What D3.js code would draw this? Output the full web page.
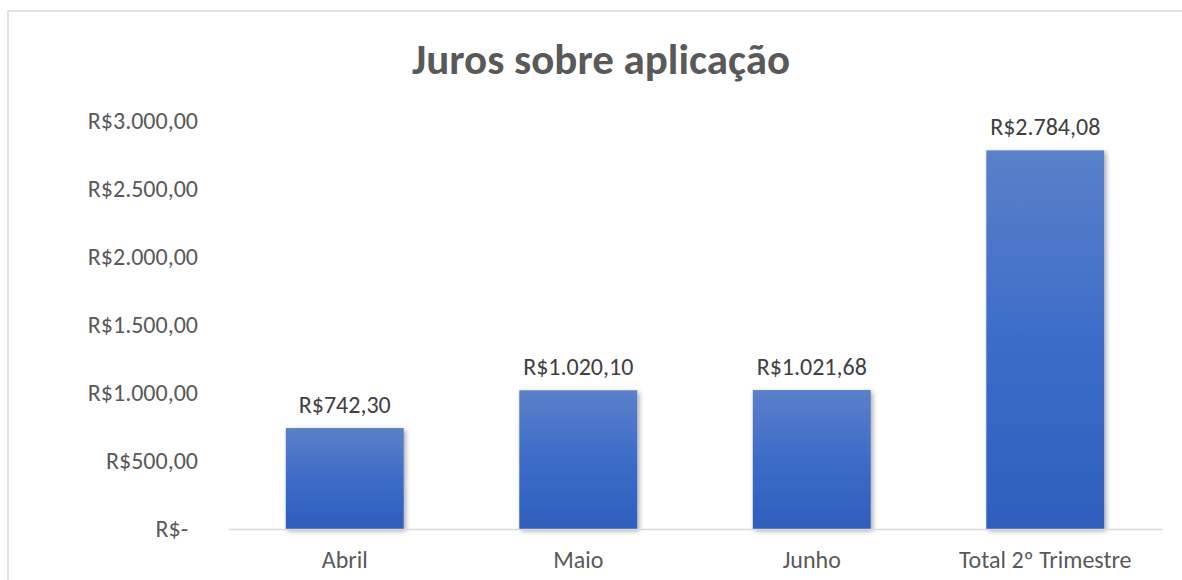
<!DOCTYPE html>
<html><head><meta charset="utf-8">
<script src="https://cdn.jsdelivr.net/npm/d3@7"></script>
<style>body{margin:0;background:#fff;} svg{display:block;}</style>
</head><body>
<script>
const categories = ["Abril", "Maio", "Junho", "Total 2º Trimestre"];
const values = [742.30, 1020.10, 1021.68, 2784.08];
const yTicks = [0, 500, 1000, 1500, 2000, 2500, 3000];
const title = "Juros sobre aplicação";

const W = 1182, H = 580;
const fmt = v => v === 0 ? "R$-" : "R$" + d3.format(",.2f")(v).replace(/,/g, "X").replace(/\./g, ",").replace(/X/g, ".");

const svg = d3.select("body").append("svg").attr("width", W).attr("height", H);
const font = "Carlito, Calibri, Lato, 'Open Sans', sans-serif";

const defs = svg.append("defs");
const grad = defs.append("linearGradient").attr("id", "g").attr("x1", 0).attr("y1", 0).attr("x2", 0).attr("y2", 1);
grad.append("stop").attr("offset", "0%").attr("stop-color", "#5b80c9");
grad.append("stop").attr("offset", "50%").attr("stop-color", "#3d6cc8");
grad.append("stop").attr("offset", "100%").attr("stop-color", "#2f5ebd");
const f = defs.append("filter").attr("id", "sh").attr("x", "-10%").attr("y", "-10%").attr("width", "130%").attr("height", "130%");
f.append("feDropShadow").attr("dx", 2).attr("dy", 2).attr("stdDeviation", 2.5).attr("flood-color", "#000").attr("flood-opacity", 0.35);

// chart border
svg.append("rect").attr("x", 8).attr("y", 11).attr("width", W).attr("height", H)
  .attr("fill", "none").attr("stroke", "#d9d9d9").attr("stroke-width", 1.5);

svg.append("text").attr("x", 601).attr("y", 74).attr("text-anchor", "middle")
  .attr("font-family", font).attr("font-weight", "bold").attr("font-size", 43)
  .attr("fill", "#595959").text(title);

const x = d3.scaleBand().domain(categories).range([228, 1162]).paddingInner(0.495).paddingOuter(0.2475);
const y = d3.scaleLinear().domain([0, 3000]).range([529, 121]);

const yAxis = svg.append("g").attr("transform", "translate(198,0)")
  .call(d3.axisLeft(y).tickValues(yTicks).tickFormat(fmt).tickSize(0).tickPadding(0));
yAxis.select(".domain").remove();
yAxis.selectAll("text").attr("font-family", font).attr("font-size", 24).attr("fill", "#595959")
  .attr("dx", d => d === 0 ? -10 : 0);

svg.selectAll("rect.bar").data(values).join("rect").attr("class", "bar")
  .attr("x", (d, i) => x(categories[i])).attr("width", x.bandwidth())
  .attr("y", d => y(d)).attr("height", d => y(0) - y(d))
  .attr("fill", "url(#g)").attr("filter", "url(#sh)");

const xAxis = svg.append("g").attr("transform", "translate(0,529)")
  .call(d3.axisBottom(x).tickSize(0).tickPadding(22));
xAxis.select(".domain").attr("stroke", "#d9d9d9").attr("stroke-width", 1.5);
xAxis.selectAll("text").attr("font-family", font).attr("font-size", 24).attr("fill", "#595959");

svg.selectAll("text.lbl").data(values).join("text").attr("class", "lbl")
  .attr("x", (d, i) => x(categories[i]) + x.bandwidth() / 2)
  .attr("y", d => y(d) - 15).attr("text-anchor", "middle")
  .attr("font-family", font).attr("font-size", 24).attr("fill", "#404040")
  .text(fmt);
</script>
</body></html>
